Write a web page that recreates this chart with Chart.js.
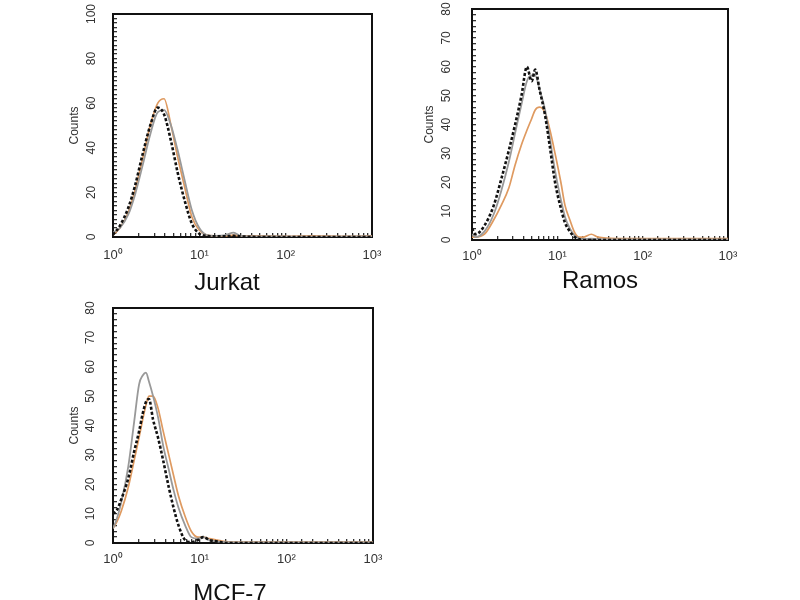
<!DOCTYPE html>
<html>
<head>
<meta charset="utf-8">
<script src="https://cdn.jsdelivr.net/npm/chart.js@4.4.1/dist/chart.umd.min.js"></script>
<style>
html, body { margin: 0; padding: 0; background: #fff; width: 800px; height: 600px; overflow: hidden; }
.panel { position: absolute; }
</style>
</head>
<body>
<div class="panel" style="left:50px;top:0px"><canvas id="jurkat" width="354" height="300"></canvas></div>
<div class="panel" style="left:410px;top:0px"><canvas id="ramos" width="380" height="300"></canvas></div>
<div class="panel" style="left:50px;top:300px"><canvas id="mcf7" width="360" height="310"></canvas></div>
<script>
// fluorescence channel (log) and counts
const jurkatX = [1, 1.2, 1.5, 1.8, 2.2, 2.7, 3.3, 3.9, 4.7, 5.6, 6.8, 8.2, 10, 12, 15, 20, 25, 30, 50, 100, 200, 500, 1000];
const jurkatBlack = [1, 5, 13, 23, 37, 50, 58, 55, 43, 29, 16, 6, 1.5, 0.5, 0.3, 0.3, 0.5, 0.3, 0, 0, 0, 0, 0];
const jurkatGray = [2, 4, 10, 19, 32, 46, 56, 57, 50, 39, 25, 12, 4, 1, 0.5, 0.8, 2, 0.5, 0.3, 0.2, 0.2, 0.2, 0.3];
const jurkatOrange = [1, 4, 11, 21, 35, 50, 60, 62, 50, 36, 22, 9, 3, 1, 0.5, 0.5, 0.8, 0.5, 0.5, 0.3, 0.5, 0.3, 0.5];

const ramosX = [1, 1.1, 1.4, 1.8, 2.2, 2.7, 3.2, 3.8, 4.4, 5, 5.5, 6.2, 7.2, 8.2, 9.4, 11, 12.3, 14, 16, 18, 20, 25, 30, 50, 100, 300, 1000];
const ramosBlack = [4, 2, 5, 12, 21, 31, 40, 50, 60, 55, 59, 52, 43, 32, 20, 11, 6, 3, 1, 0.3, 0, 0, 0, 0, 0, 0, 0];
const ramosGray = [2, 1, 3, 9, 17, 27, 37, 47, 55, 57, 57, 52, 45, 35, 24, 14, 8, 4, 1.5, 0.5, 0.3, 0.5, 0.3, 0.2, 0.2, 0.2, 0.2];
const ramosOrange = [1, 1, 2, 7, 12, 18, 26, 33, 38, 42, 45, 46, 44, 38, 30, 20, 12, 7, 2.5, 1, 1, 2, 1, 0.5, 0.5, 0.5, 0.5];

const mcfX = [1, 1.1, 1.25, 1.5, 1.75, 2, 2.2, 2.4, 2.6, 2.9, 3.3, 3.8, 4.4, 5, 5.7, 6.8, 8, 9.5, 11, 13, 16, 20, 30, 100, 1000];
const mcfBlack = [10, 11, 15, 22, 31, 38, 44, 48, 49, 42, 36, 28, 19, 12, 6, 1, 0.3, 1, 2, 1, 0.5, 0, 0, 0, 0];
const mcfGray = [5, 8, 14, 26, 41, 54, 57, 58, 55, 50, 43, 33, 25, 18, 12, 6, 2, 1.5, 2, 1, 0.5, 0.3, 0.2, 0.2, 0.2];
const mcfOrange = [5, 7, 11, 19, 28, 36, 42, 47, 50, 50, 46, 38, 30, 23, 16, 9, 4, 2, 2, 1.5, 1, 0.5, 0.3, 0.3, 0.3];

const decadeLabels = { 1: '10⁰', 10: '10¹', 100: '10²', 1000: '10³' };

Chart.defaults.font.family = '"Liberation Sans", Arial, Helvetica, sans-serif';

// y tick labels in the original are turned on their side
const rotatedYTicks = {
    id: 'rotatedYTicks',
    afterDraw(chart, args, opts) {
        const scale = chart.scales.y;
        const ctx = chart.ctx;
        ctx.save();
        ctx.fillStyle = '#333';
        ctx.font = '12px "Liberation Sans", Arial, sans-serif';
        ctx.textAlign = 'center';
        ctx.textBaseline = 'middle';
        scale.ticks.forEach(t => {
            if (t.value % opts.step !== 0) return;
            ctx.save();
            ctx.translate(opts.x, scale.getPixelForValue(t.value));
            ctx.rotate(-Math.PI / 2);
            ctx.fillText(String(t.value), 0, 0);
            ctx.restore();
        });
        ctx.restore();
    }
};

function toPoints(xs, ys) {
    return xs.map((x, i) => ({ x: x, y: ys[i] }));
}

function makePanel(id, name, xs, black, gray, orange, yMax, labelStep, g) {
    const frame = { color: '#111', width: 2 };
    return new Chart(document.getElementById(id), {
        type: 'line',
        data: {
            datasets: [
                { data: toPoints(xs, black), borderColor: '#111', borderWidth: 2.6, borderDash: [3, 2] },
                { data: toPoints(xs, gray), borderColor: '#999', borderWidth: 1.8 },
                { data: toPoints(xs, orange), borderColor: '#df9a60', borderWidth: 1.7 }
            ]
        },
        options: {
            responsive: false,
            animation: false,
            parsing: false,
            elements: {
                point: { radius: 0 },
                line: { cubicInterpolationMode: 'monotone', fill: false }
            },
            layout: { padding: { top: g.top, left: 0, right: 0, bottom: 0 } },
            plugins: {
                legend: { display: false },
                tooltip: { enabled: false },
                title: {
                    display: true,
                    text: name,
                    position: 'bottom',
                    color: '#111',
                    font: { size: 24, weight: 'normal', lineHeight: 1 },
                    padding: { top: 0, bottom: g.titlePad }
                },
                rotatedYTicks: { step: labelStep, x: g.labelX }
            },
            scales: {
                x: {
                    type: 'logarithmic',
                    position: 'bottom',
                    min: 1,
                    max: 1000,
                    border: frame,
                    grid: { drawOnChartArea: false, tickLength: -4, color: '#333', lineWidth: 1.3 },
                    ticks: {
                        autoSkip: false,
                        maxRotation: 0,
                        padding: g.xPad,
                        color: '#333',
                        font: { size: 13 },
                        callback: v => decadeLabels[v] || ''
                    },
                    afterFit: s => { s.height = g.xHeight; }
                },
                xT: {
                    type: 'linear',
                    position: 'top',
                    display: true,
                    border: frame,
                    grid: { display: false },
                    ticks: { display: false },
                    afterFit: s => { s.height = 0; }
                },
                y: {
                    min: 0,
                    max: yMax,
                    border: frame,
                    grid: { drawOnChartArea: false, tickLength: -4, color: '#333', lineWidth: 1.3 },
                    ticks: { display: false, stepSize: 2 },
                    title: {
                        display: true,
                        text: 'Counts',
                        color: '#333',
                        font: { size: 12, lineHeight: 1 },
                        padding: { top: g.countsPad, bottom: 0 }
                    },
                    afterFit: s => { s.width = g.yWidth; }
                },
                yR: {
                    type: 'linear',
                    position: 'right',
                    display: true,
                    border: frame,
                    grid: { display: false },
                    ticks: { display: false },
                    afterFit: s => { s.width = g.rightWidth; }
                }
            }
        },
        plugins: [rotatedYTicks]
    });
}

makePanel('jurkat', 'Jurkat', jurkatX, jurkatBlack, jurkatGray, jurkatOrange, 100, 20,
    { top: 14, yWidth: 63, rightWidth: 32, xHeight: 34, titlePad: 5, countsPad: 19, labelX: 42, xPad: 15 });
makePanel('ramos', 'Ramos', ramosX, ramosBlack, ramosGray, ramosOrange, 80, 10,
    { top: 9, yWidth: 62, rightWidth: 62, xHeight: 29, titlePad: 7, countsPad: 14, labelX: 37, xPad: 13 });
makePanel('mcf7', 'MCF-7', mcfX, mcfBlack, mcfGray, mcfOrange, 80, 10,
    { top: 8, yWidth: 63, rightWidth: 37, xHeight: 39, titlePad: 4, countsPad: 19, labelX: 41, xPad: 13 });
</script>
</body>
</html>
